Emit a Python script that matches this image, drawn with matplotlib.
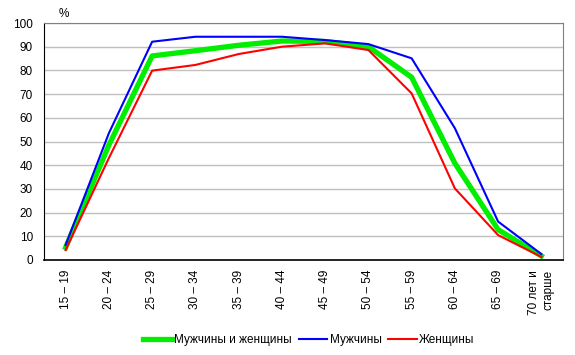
import matplotlib.pyplot as plt
import numpy as np

plt.rcParams['font.family'] = ['Liberation Sans', 'DejaVu Sans']

age_groups = ['15 – 19', '20 – 24', '25 – 29', '30 – 34', '35 – 39', '40 – 44',
              '45 – 49', '50 – 54', '55 – 59', '60 – 64', '65 – 69', '70 лет и\nстарше']
both = [5.3, 48.5, 86.1, 88.3, 90.6, 92.4, 92.2, 90.0, 77.1, 40.8, 12.8, 1.7]
men = [6.3, 53.5, 92.1, 94.2, 94.2, 94.2, 92.8, 91.1, 85.1, 55.6, 16.2, 2.5]
women = [4.2, 43.0, 79.9, 82.3, 86.9, 90.0, 91.4, 88.6, 70.3, 30.2, 10.5, 1.3]

fig = plt.figure(figsize=(5.75, 3.55), dpi=100)
ax = fig.add_axes([44 / 575, 95 / 355, 519 / 575, 237 / 355])

x = np.arange(len(age_groups))
ax.plot(x, both, color='#00ee00', lw=3.8, label='Мужчины и женщины')
ax.plot(x, men, color='#0000ff', lw=1.5, label='Мужчины')
ax.plot(x, women, color='#ff0000', lw=1.5, label='Женщины')

ax.set_xlim(-0.5, len(age_groups) - 0.5)
ax.set_ylim(0, 100)
ax.set_yticks(range(0, 101, 10))
ax.yaxis.grid(True, color='#c0c0c0', lw=1)
ax.set_axisbelow(True)
ax.tick_params(length=0, labelsize=8.5)
ax.tick_params(axis='y', pad=8)
ax.set_xticks(x)
ax.set_xticklabels(age_groups, rotation=90, va='top', ha='center', multialignment='right')
ax.tick_params(axis='x', pad=7)

ax.spines['left'].set_color('black')
ax.spines['bottom'].set_color('black')
ax.spines['bottom'].set_linewidth(1.2)
ax.spines['top'].set_color('#808080')
ax.spines['right'].set_color('#808080')

fig.text(64 / 575, 1 - 14 / 355, '%', fontsize=8.5, ha='center', va='center')

fig.legend(loc='center', bbox_to_anchor=(309 / 575, 1 - 340 / 355), ncol=3, frameon=False,
           fontsize=8.5, handlelength=2.4, handletextpad=0.2, columnspacing=0.6)

fig.savefig('out.png', dpi=100)
